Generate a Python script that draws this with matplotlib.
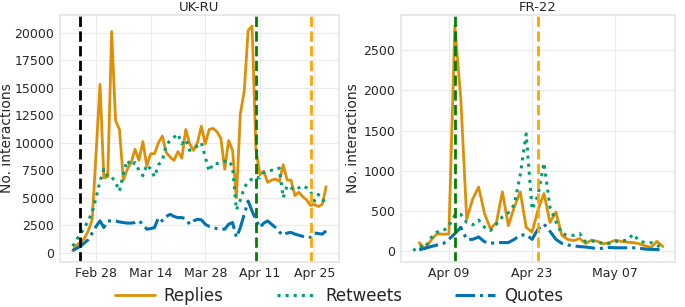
import numpy as np
import pandas as pd
import matplotlib
import matplotlib.pyplot as plt
import matplotlib.dates as mdates
import seaborn as sns

matplotlib.use('Agg')

# --- datos UK-RU (diarios, 22 feb - 28 abr) ---
ukru_start = '2022-02-22'
ukru_replies = [200, 700, 950, 1300, 2000, 3000, 9000, 15300, 6800, 6900,
                20100, 12000, 11200, 6600, 7600, 8200, 9400, 8400, 10100, 7900,
                9000, 9000, 10000, 10600, 9100, 8700, 8400, 9200, 8600, 11200,
                9900, 9300, 10000, 11500, 9900, 11200, 11300, 11000, 10400, 7600,
                10200, 9300, 5000, 12600, 14700, 20200, 20600, 9400, 7100, 7400,
                6400, 6600, 6700, 6500, 8000, 6600, 6600, 5200, 5500, 5100,
                4800, 4300, 4400, 4200, 4400, 6000]
ukru_retweets = [600, 1200, 1700, 2300, 2900, 3700, 5000, 6500, 7600, 6900,
                 6900, 6400, 5600, 7200, 8400, 7900, 8200, 7500, 7000, 8000,
                 7600, 6900, 8000, 8400, 9800, 10200, 10500, 10800, 9900, 10300,
                 9300, 9500, 9700, 10000, 8700, 7400, 8100, 8100, 8200, 8300,
                 8400, 7800, 3900, 4800, 5900, 6500, 6700, 6900, 6800, 7300,
                 7400, 7500, 7500, 7700, 5000, 6100, 5900, 5700, 5900, 6100,
                 5900, 5600, 4700, 5300, 5000, 4300]
ukru_quotes = [200, 400, 600, 900, 1200, 1800, 2400, 2900, 2300, 2900,
               2900, 2900, 2800, 2750, 2700, 2700, 2750, 2900, 2600, 2150,
               2200, 2300, 3200, 2900, 3300, 3500, 3300, 3200, 3200, 3100,
               2600, 2900, 3050, 3000, 2600, 2400, 2300, 2200, 2150, 2150,
               2600, 2750, 1400, 2300, 3500, 4700, 3800, 3000, 2300, 2700,
               2900, 2600, 2300, 1900, 1600, 1800, 1850, 1700, 1600, 1500,
               1400, 1400, 1800, 1750, 1700, 2000]
ukru_events = ['2022-02-24', '2022-04-10', '2022-04-24']
ukru_ticks = ['2022-02-28', '2022-03-14', '2022-03-28', '2022-04-11', '2022-04-25']

# --- datos FR-22 (diarios, 3 abr - 15 may) ---
fr_start = '2022-04-03'
fr_replies = [np.nan, 110, 30, 140, 220, 215, 215, 2800, 1900, 400,
              650, 800, 470, 280, 360, 740, 320, 550, 740, 300,
              240, 520, 720, 360, 490, 200, 150, 135, 160, 100,
              140, 125, 95, 110, 140, 125, 115, 110, 95, 70,
              50, 125, 60]
fr_retweets = [10, 70, 50, 170, 240, 250, 320, 450, 460, 360,
               330, 390, 300, 260, 340, 430, 480, 580, 950, 1460,
               520, 700, 1100, 550, 370, 220, 200, 200, 220, 120,
               130, 120, 95, 100, 125, 130, 140, 215, 130, 110,
               110, 80, 30]
fr_quotes = [np.nan, 20, 40, 60, 80, 95, 150, 220, 300, 150,
             150, 180, 120, 100, 110, 110, 110, 150, 200, 210,
             150, 280, 340, 250, 150, 100, 80, 70, 60, 55,
             45, 35, 40, 50, 45, 45, 45, 45, 40, 30,
             25, 25, 15]
fr_events = ['2022-04-10', '2022-04-24']
fr_ticks = ['2022-04-09', '2022-04-23', '2022-05-07']

event_colors = ['black', 'green', 'orange']
c_rep, c_rt, c_quo = '#de8f05', '#029e73', '#0173b2'

sns.set_theme(style='whitegrid')
plt.rcParams['font.family'] = ['DejaVu Sans']

fig = plt.figure(figsize=(6.85, 3.07), dpi=100)
ax1 = fig.add_axes([0.0876, 0.147, 0.407, 0.805])
ax2 = fig.add_axes([0.585, 0.147, 0.401, 0.805])


def panel(ax, start, rep, rt, quo, events, colors, ticks, title, ylab_x):
    dias = pd.date_range(start, periods=len(rep), freq='D')
    ax.plot(dias, rep, color=c_rep, lw=2, ls='-', label='Replies')
    ax.plot(dias, rt, color=c_rt, lw=2.2, ls=':', label='Retweets')
    ax.plot(dias, quo, color=c_quo, lw=2.2, ls='-.', label='Quotes')
    for ev, col in zip(events, colors):
        ax.axvline(pd.Timestamp(ev), color=col, ls='--', lw=2)
    ax.set_xticks(pd.to_datetime(ticks))
    ax.xaxis.set_major_formatter(mdates.DateFormatter('%b %d'))
    ax.set_title(title, fontsize=9.5, pad=3)
    ax.set_ylabel('No. interactions', fontsize=10)
    ax.yaxis.set_label_coords(ylab_x, 0.5)
    ax.tick_params(labelsize=9, length=0, pad=4)
    for s in ax.spines.values():
        s.set_color('#e6e6e6')
    ax.grid(color='#ebebeb', lw=0.8)


panel(ax1, ukru_start, ukru_replies, ukru_retweets, ukru_quotes,
      ukru_events, event_colors, ukru_ticks, 'UK-RU', -0.165)
panel(ax2, fr_start, fr_replies, fr_retweets, fr_quotes,
      fr_events, event_colors[1:], fr_ticks, 'FR-22', -0.15)
ax2.set_yticks([0, 500, 1000, 1500, 2000, 2500])

h, l = ax1.get_legend_handles_labels()
fig.legend(h, l, loc='center', bbox_to_anchor=(0.495, 0.037), ncol=3,
           frameon=False, fontsize=12, handlelength=2.4, columnspacing=3.2,
           handletextpad=0.5, borderpad=0.1)

fig.savefig('out.png', dpi=100)
